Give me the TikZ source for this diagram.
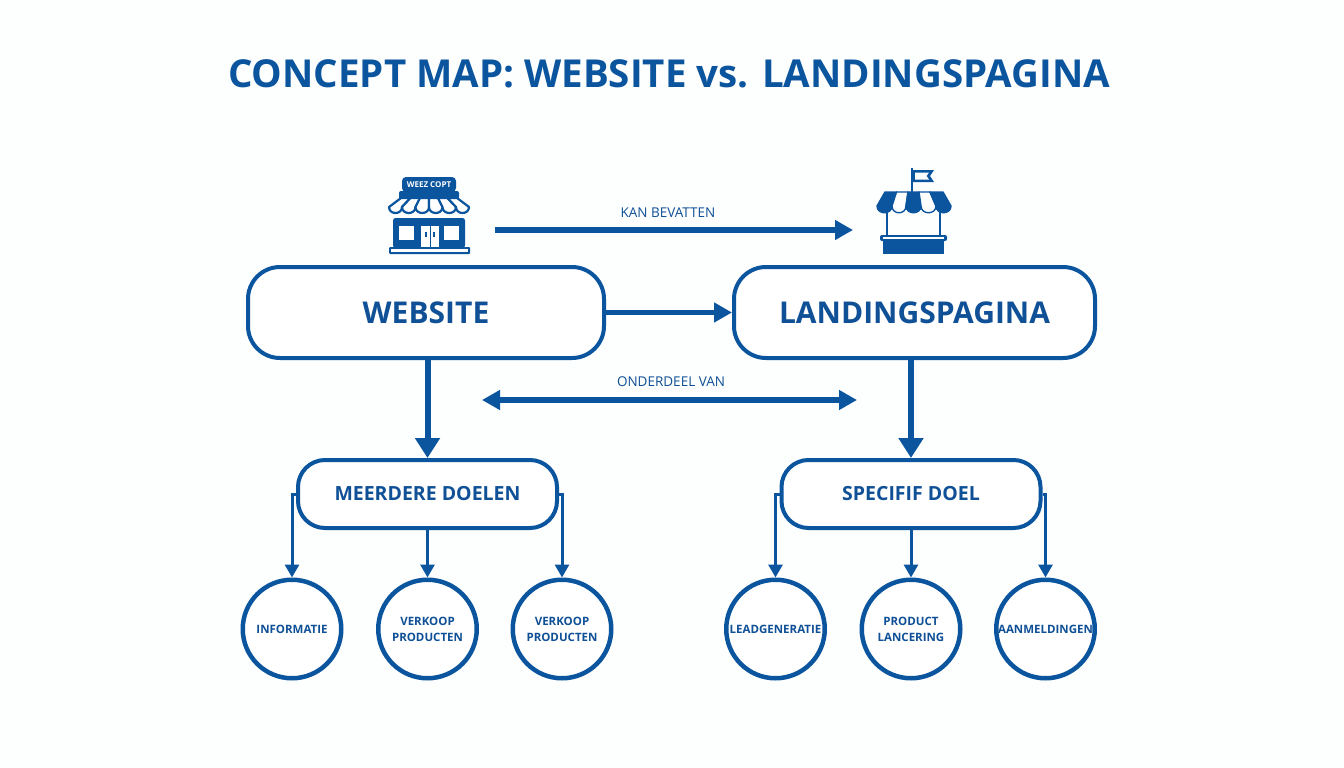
\documentclass[tikz,border=0pt]{standalone}
\usepackage{fontspec}
\setmainfont{Open Sans}
\usetikzlibrary{
	arrows.meta,
	positioning
}
\definecolor{mapblue}{HTML}{0B559F}
\definecolor{maptext}{HTML}{0F5096}
\definecolor{mappaper}{HTML}{FDFEFE}

\begin{document}
\begin{tikzpicture}[
			x=1pt, y=-1pt,
			TitleStyle/.style={text=mapblue, font=\fontsize{38.5}{40}\selectfont\bfseries, inner sep=0pt},
			LabelStyle/.style={text=maptext, font=\fontsize{13.5}{15}\selectfont, inner sep=0pt},
			ConceptStyle/.style={draw=mapblue, line width=4pt, rounded corners=32pt, fill=white, text=maptext, minimum width=356pt, minimum height=91pt, inner sep=0pt, font=\fontsize{30}{32}\selectfont\bfseries},
			GoalStyle/.style={draw=mapblue, line width=4pt, rounded corners=27pt, fill=white, text=maptext, minimum width=259pt, minimum height=68pt, inner sep=0pt, font=\fontsize{19.5}{22}\selectfont\bfseries},
			LeafStyle/.style={draw=mapblue, line width=4.5pt, circle, fill=white, text=maptext, minimum size=98.5pt, inner sep=0pt, align=center, font=\fontsize{11.5}{16}\selectfont\bfseries},
			BigArrow/.style={draw=mapblue, line width=5.5pt, -{Triangle[length=18pt, width=19pt]}},
			DownArrow/.style={draw=mapblue, line width=6pt, -{Triangle[length=20pt, width=24pt]}},
			SmallArrow/.style={draw=mapblue, line width=3pt, -{Triangle[length=13pt, width=14pt]}}]
			\fill[mappaper] (0,0) rectangle (1344,768);
			\useasboundingbox (0,0) rectangle (1344,768);
			\node [TitleStyle] (title) at (669,74) {CONCEPT MAP: WEBSITE vs. LANDINGSPAGINA};
			% main concepts
			\node [ConceptStyle] (website) at (426,312.5) {WEBSITE};
			\node [ConceptStyle, minimum width=361pt] (landing) at (914.5,312.5) {LANDINGSPAGINA};
			\node [GoalStyle] (goalA) at (427.5,494) {MEERDERE DOELEN};
			\node [GoalStyle] (goalB) at (911,494) {SPECIFIF DOEL};
			% leaves
			\node [LeafStyle] (leafA) at (292,629) {INFORMATIE};
			\node [LeafStyle] (leafB) at (427.5,629) {VERKOOP\\PRODUCTEN};
			\node [LeafStyle] (leafC) at (562,629) {VERKOOP\\PRODUCTEN};
			\node [LeafStyle] (leafD) at (775.5,629) {LEADGENERATIE};
			\node [LeafStyle] (leafE) at (911,629) {PRODUCT\\LANCERING};
			\node [LeafStyle] (leafF) at (1045.5,629) {AANMELDINGEN};
			% free arrow ends
			\coordinate (kanFrom) at (495,230);
			\coordinate (kanTo) at (853,230);
			\coordinate (deelFrom) at (482,400);
			\coordinate (deelTo) at (857,400);
			\node [LabelStyle] (kanLabel) at (668,213) {KAN BEVATTEN};
			\node [LabelStyle] (deelLabel) at (671,382) {ONDERDEEL VAN};
			\draw [BigArrow] (kanFrom) to (kanTo);
			\draw [BigArrow] (website.east) to (landing.west);
			\draw [BigArrow, {Triangle[length=18pt, width=19pt]}-{Triangle[length=18pt, width=19pt]}] (deelFrom) to (deelTo);
			\draw [DownArrow] (website.south -| goalA) to (goalA.north);
			\draw [DownArrow] (landing.south -| goalB) to (goalB.north);
			\draw [SmallArrow] (goalA.west) -| (leafA.north);
			\draw [SmallArrow] (goalA.south) to (leafB.north);
			\draw [SmallArrow] (goalA.east) -| (leafC.north);
			\draw [SmallArrow] (goalB.west) -| (leafD.north);
			\draw [SmallArrow] (goalB.south) to (leafE.north);
			\draw [SmallArrow] (goalB.east) -| (leafF.north);
			% shop icon
			\fill[mapblue, rounded corners=2.5pt] (393,218) rectangle (465,248);
			\fill[mapblue, rounded corners=1pt] (389,247) rectangle (470,254);
			\fill[white] (391,249) rectangle (468,252);
			\fill[white] (399,226) rectangle (414,240);
			\fill[white] (444,226) rectangle (459,240);
			\fill[white] (421,226) rectangle (439,247);
			\draw[mapblue, line width=1pt] (430,226) -- (430,247);
			\fill[mapblue] (425,232) rectangle (427,237);
			\fill[mapblue] (433,232) rectangle (435,237);
			\fill[mapblue, rounded corners=2pt] (399,191) rectangle (459,199);
			\node [fill=mapblue, rounded corners=4pt, text=white, minimum width=54pt, minimum height=15pt, inner sep=0pt, font=\fontsize{8}{9}\selectfont\bfseries] (shopSign) at (429,184.5) {WEEZ COPT};
			\foreach \a/\b/\c/\d in {401/389/410.5/402,410.5/402/420/415.5,420/415.5/429/429,429/429/438/442.5,438/442.5/447.5/456,447.5/456/457/469}
				\draw[mapblue, line width=2.2pt, line join=round, fill=white] (\a,198) -- (\b,207) .. controls (\b,215) and (\d,215) .. (\d,207) -- (\c,198) -- cycle;
			% stand icon
			\draw[mapblue, line width=1.8pt] (912,193) -- (912,168);
			\fill[mapblue] (912,170) -- (934,170) -- (930,176) -- (934,182) -- (912,182) -- cycle;
			\fill[white] (915,172.5) -- (929,172.5) -- (926.5,176) -- (929,179.5) -- (915,179.5) -- cycle;
			\draw[mapblue, line width=1.8pt] (887,212) -- (887,236);
			\draw[mapblue, line width=1.8pt] (940,212) -- (940,236);
			\fill[mapblue, rounded corners=2pt] (880,235) rectangle (947,241);
			\fill[white] (883,237) rectangle (944,238.5);
			\fill[mapblue] (883,240) rectangle (944,254);
			\foreach \a/\b/\c/\d/\e in {885/877/896.5/892/mapblue,896.5/892/908/906/white,908/906/919/921/mapblue,919/921/930/936/white,930/936/943/951/mapblue}
				\draw[mapblue, line width=1.4pt, line join=round, fill=\e] (\a,192) -- (\b,206) .. controls (\b,215) and (\d,215) .. (\d,206) -- (\c,192) -- cycle;
		\end{tikzpicture}
\end{document}
